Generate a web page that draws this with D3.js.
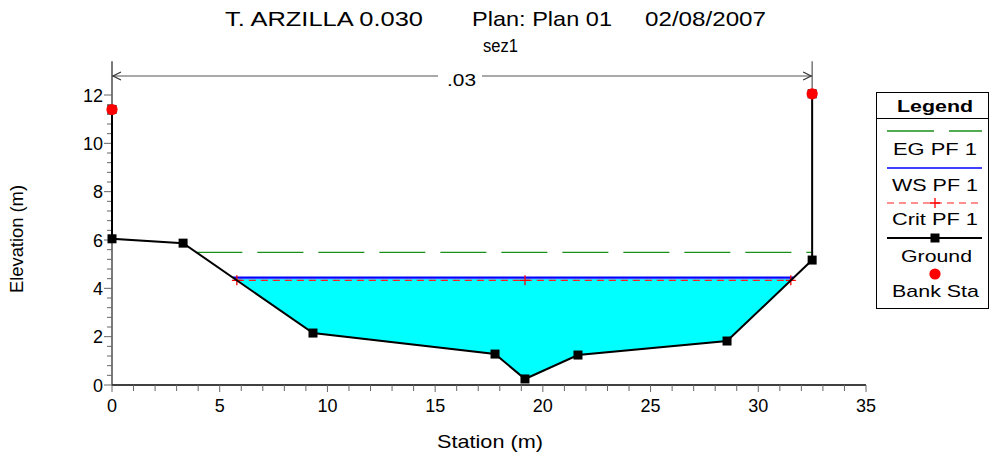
<!DOCTYPE html>
<html><head><meta charset="utf-8">
<script src="https://cdn.jsdelivr.net/npm/d3@7"></script>
<style>
body{margin:0;background:#fff;}
svg{display:block;font-family:"Liberation Sans",Arial,sans-serif;}
</style></head>
<body><svg id="c" width="992" height="462"></svg>
<script>
// ---- data ----
const groundStation = [0, 0, 3.3, 9.33, 17.78, 19.17, 21.63, 28.55, 32.5, 32.5];
const groundElev    = [11.4, 6.05, 5.87, 2.15, 1.28, 0.25, 1.24, 1.82, 5.17, 12.05];
const bankStation = [0, 32.5];
const bankElev = [11.4, 12.05];
const wsElev = 4.44;
const critElev = 4.33;
const egElev = 5.49;
const critMarkStation = [19.17];
const nValue = ".03";
const xTicks = [0,5,10,15,20,25,30,35];
const yTicks = [0,2,4,6,8,10,12];
const legendItems = ["EG PF 1","WS PF 1","Crit PF 1","Ground","Bank Sta"];

const svg = d3.select("#c");
const x = d3.scaleLinear().domain([0,35]).range([112,866]);
const y = d3.scaleLinear().domain([0,12]).range([385,95]);
const yTop = 13.4;

const ground = groundStation.map((s,i)=>({s, e:groundElev[i]}));

function crossings(level){
  const pts=[];
  for(let i=0;i<ground.length-1;i++){
    const a=ground[i], b=ground[i+1];
    if((a.e-level)*(b.e-level)<=0 && a.e!==b.e){
      const t=(level-a.e)/(b.e-a.e);
      pts.push({s:a.s+t*(b.s-a.s), i});
    }
  }
  return pts;
}
function span(level){
  const c = crossings(level);
  const minI = d3.minIndex(ground, d=>d.e);
  const left = c.filter(p=>p.i<minI).pop();
  const right = c.filter(p=>p.i>=minI)[0];
  return [left,right];
}

// ---- water fill ----
const [wl, wr] = span(wsElev);
const poly = [{s:wl.s,e:wsElev}];
for(let i=wl.i+1;i<=wr.i;i++) poly.push(ground[i]);
poly.push({s:wr.s,e:wsElev});
svg.append("path")
  .attr("d", d3.line().x(d=>x(d.s)).y(d=>y(d.e))(poly)+"Z")
  .attr("fill","#00FFFF");

// ---- axes ----
const gx = svg.append("g").attr("transform","translate(0,385)");
gx.append("line").attr("x1",x(0)).attr("x2",x(35)).attr("stroke","#000").attr("stroke-width",1.3);
gx.selectAll("line.mt").data(d3.range(0,36,1)).join("line")
  .attr("x1",d=>x(d)).attr("x2",d=>x(d)).attr("y1",0).attr("y2",d=>d%5===0?7:6)
  .attr("stroke","#666").attr("stroke-width",1);
gx.selectAll("text").data(xTicks).join("text")
  .attr("x",d=>x(d)).attr("y",27).attr("text-anchor","middle")
  .attr("font-size",18).text(d=>d);

const gy = svg.append("g");
gy.append("line").attr("x1",x(0)).attr("x2",x(0)).attr("y1",y(0)).attr("y2",y(yTop)).attr("stroke","#333").attr("stroke-width",1.3);
gy.selectAll("line.t").data(d3.range(0,61,1).map(v=>v*0.4).filter(v=>v<=12.01)).join("line")
  .attr("x1",d=>Math.abs(d/2-Math.round(d/2))<1e-6? x(0)-8 : x(0)-5).attr("x2",x(0))
  .attr("y1",d=>y(d)).attr("y2",d=>y(d)).attr("stroke","#666").attr("stroke-width",1);
gy.selectAll("text").data(yTicks).join("text")
  .attr("x",x(0)-9).attr("y",d=>y(d)+6.5).attr("text-anchor","end")
  .attr("font-size",18).text(d=>d);

svg.append("text").attr("x",437).attr("y",448).attr("font-size",19)
  .attr("textLength",106).attr("lengthAdjust","spacingAndGlyphs").text("Station (m)");
svg.append("text").attr("transform","translate(23,293) rotate(-90)")
  .attr("font-size",19).attr("textLength",108).attr("lengthAdjust","spacingAndGlyphs").text("Elevation (m)");

// ---- titles ----
const t1 = [["T. ARZILLA 0.030",225,198],["Plan: Plan 01",472,140],["02/08/2007",645,121]];
t1.forEach(([s,x0,len])=>{
  svg.append("text").attr("x",x0).attr("y",26).attr("font-size",21)
    .attr("textLength",len).attr("lengthAdjust","spacingAndGlyphs").text(s);
});
svg.append("text").attr("x",483).attr("y",52).attr("font-size",18)
  .attr("textLength",35).attr("lengthAdjust","spacingAndGlyphs").text("sez1");

// ---- n-value dimension line ----
const ay = 76;
svg.append("line").attr("x1",x(bankStation[0])).attr("x2",x(bankStation[1])).attr("y1",ay).attr("y2",ay)
  .attr("stroke","#555").attr("stroke-width",1.2);
svg.append("line").attr("x1",x(bankStation[1])).attr("x2",x(bankStation[1])).attr("y1",y(yTop)).attr("y2",y(bankElev[1]))
  .attr("stroke","#555").attr("stroke-width",1.2);
[[x(bankStation[0]),1],[x(bankStation[1]),-1]].forEach(([px,dir])=>{
  svg.append("path").attr("d",`M${px+dir*9},${ay-4}L${px+dir*1},${ay}L${px+dir*9},${ay+4}`)
    .attr("fill","none").attr("stroke","#333").attr("stroke-width",1.2);
});
svg.append("rect").attr("x",438).attr("y",ay-8).attr("width",44).attr("height",16).attr("fill","#fff");
svg.append("text").attr("x",447).attr("y",ay+10).attr("font-size",17)
  .attr("textLength",29).attr("lengthAdjust","spacingAndGlyphs").text(nValue);

// ---- EG line ----
const eg = span(egElev);
const egRight = eg[1] ? eg[1].s : bankStation[1];
svg.append("line").attr("x1",x(eg[0].s)).attr("x2",x(egRight)).attr("y1",y(egElev)).attr("y2",y(egElev))
  .attr("stroke","#1a8f1a").attr("stroke-width",1.3).attr("stroke-dasharray","46,15");

// ---- WS line ----
svg.append("line").attr("x1",x(wl.s)).attr("x2",x(wr.s)).attr("y1",y(wsElev)).attr("y2",y(wsElev))
  .attr("stroke","#8080ff").attr("stroke-width",3.2);
svg.append("line").attr("x1",x(wl.s)).attr("x2",x(wr.s)).attr("y1",y(wsElev)).attr("y2",y(wsElev))
  .attr("stroke","#0000ff").attr("stroke-width",1.6);

// ---- Crit line ----
const [cl, cr] = span(critElev);
svg.append("line").attr("x1",x(cl.s)).attr("x2",x(cr.s)).attr("y1",y(critElev)).attr("y2",y(critElev))
  .attr("stroke","#ff2020").attr("stroke-width",1.2).attr("stroke-dasharray","7,5");
const plusS = [cl.s, ...critMarkStation, cr.s];
svg.selectAll("path.plus").data(plusS).join("path")
  .attr("d",d=>`M${x(d)-5},${y(critElev)}h10M${x(d)},${y(critElev)-5}v10`)
  .attr("stroke","#ff0000").attr("stroke-width",1.3);

// ---- Ground ----
svg.append("path").attr("d",d3.line().x(d=>x(d.s)).y(d=>y(d.e))(ground))
  .attr("fill","none").attr("stroke","#000").attr("stroke-width",2);
svg.selectAll("rect.g").data(ground).join("rect")
  .attr("x",d=>x(d.s)-4.5).attr("y",d=>y(d.e)-4.5).attr("width",9).attr("height",9).attr("fill","#000");
svg.selectAll("circle.b").data(bankStation).join("circle")
  .attr("cx",d=>x(d)).attr("cy",(d,i)=>y(bankElev[i])).attr("r",5.6).attr("fill","#ff0000");

// ---- Legend ----
const lg = svg.append("g");
lg.append("rect").attr("x",876.5).attr("y",92.5).attr("width",112).attr("height",216)
  .attr("fill","#fff").attr("stroke","#000").attr("stroke-width",1);
lg.append("line").attr("x1",876.5).attr("x2",988.5).attr("y1",118.5).attr("y2",118.5).attr("stroke","#000");
lg.append("text").attr("x",897).attr("y",112).attr("font-size",17).attr("font-weight","bold")
  .attr("textLength",76).attr("lengthAdjust","spacingAndGlyphs").text("Legend");
const lx1=887, lx2=982;
lg.append("line").attr("x1",lx1).attr("x2",lx2).attr("y1",131).attr("y2",131).attr("stroke","#1a8f1a").attr("stroke-width",1.3).attr("stroke-dasharray","47,15");
lg.append("line").attr("x1",lx1).attr("x2",lx2).attr("y1",168).attr("y2",168).attr("stroke","#0000ff").attr("stroke-width",1.6);
lg.append("line").attr("x1",lx1).attr("x2",lx2).attr("y1",203).attr("y2",203).attr("stroke","#ff2020").attr("stroke-width",1.2).attr("stroke-dasharray","7,5");
lg.append("path").attr("d",`M935,198v10M930,203h10`).attr("stroke","#ff0000").attr("stroke-width",1.3);
lg.append("line").attr("x1",lx1).attr("x2",lx2).attr("y1",238).attr("y2",238).attr("stroke","#000").attr("stroke-width",2);
lg.append("rect").attr("x",930.5).attr("y",233.5).attr("width",9).attr("height",9).attr("fill","#000");
lg.append("circle").attr("cx",935).attr("cy",274).attr("r",5.6).attr("fill","#ff0000");
const ly = [155,191,225,262,297];
const lxs = [893,892,892,901,892];
const lw = [84,86,86,71,87];
lg.selectAll("text.it").data(legendItems).join("text")
  .attr("x",(d,i)=>lxs[i]).attr("y",(d,i)=>ly[i]).attr("font-size",17)
  .attr("textLength",(d,i)=>lw[i]).attr("lengthAdjust","spacingAndGlyphs").text(d=>d);
</script>
</body></html>
